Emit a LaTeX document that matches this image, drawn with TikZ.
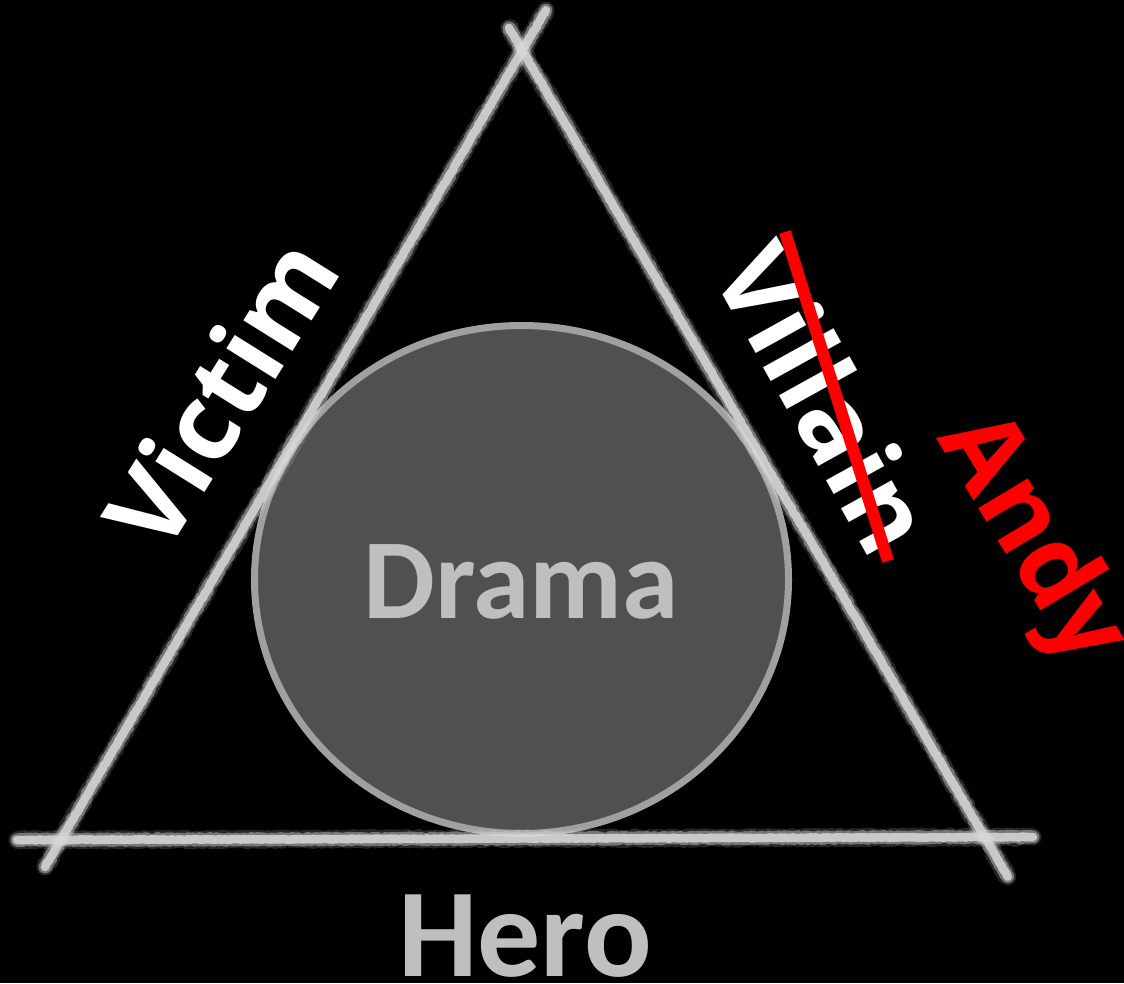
\documentclass[tikz,border=0pt]{standalone}
\usepackage{fontspec}
\setmainfont{Open Sans}
\newfontfamily\calib{Carlito}
\usetikzlibrary{decorations.pathmorphing,shapes.geometric}
\definecolor{chalk}{HTML}{D8D8D8}
\definecolor{circfill}{HTML}{505050}
\definecolor{circline}{HTML}{A0A0A0}
\definecolor{lighttext}{HTML}{BFBFBF}
\definecolor{redx}{HTML}{FF0000}
\tikzset{
  chalkhalo/.style={line width=17, draw=chalk, opacity=0.18, line join=round, line cap=round,
    decorate, decoration={random steps, segment length=1.5, amplitude=1.4}},
  chalkouter/.style={line width=13, draw=chalk, opacity=0.45, line join=round, line cap=round,
    decorate, decoration={random steps, segment length=1.5, amplitude=1}},
  chalkinner/.style={line width=8.5, draw=chalk, opacity=0.85, line join=round, line cap=round,
    decorate, decoration={random steps, segment length=1.5, amplitude=0.5}},
  sidelabel/.style={text=white, font=\bfseries\fontsize{106}{110}\selectfont, inner sep=0},
  bigtext/.style={text=lighttext, font=\calib\bfseries\fontsize{#1}{#1}\selectfont, inner sep=0},
}
\begin{document}
\begin{tikzpicture}[x=1pt, y=-1pt]
\useasboundingbox[fill=black] (0,0) rectangle (1124,983);
% corner points of the chalk lines
\coordinate (L1) at (45,867);
\coordinate (L2) at (546,10);
\coordinate (R1) at (509,28);
\coordinate (R2) at (1008,877);
\coordinate (B1) at (17,840);
\coordinate (B2) at (1033,837);
% circle
\node (drama) [ellipse, draw=circline, fill=circfill, line width=7, minimum width=534, minimum height=508, inner sep=0] at (521.5,579.5) {};
\node (dramatxt) [bigtext=114] at (521,582) {Drama};
% chalk lines
\foreach \a/\b in {L1/L2, R1/R2, B1/B2}{
  \draw[chalkhalo] (\a) -- (\b);
  \draw[chalkouter] (\a) -- (\b);
  \draw[chalkinner] (\a) -- (\b);
}
% labels
\node (hero) [bigtext=126] at (525,936) {Hero};
\node (victim) [sidelabel, rotate=58] at (220,393) {Victim};
\node (villain) [sidelabel, rotate=-61] at (826,398) {Villain};
\coordinate (s1) at (785,232);
\coordinate (s2) at (888,561);
\draw[redx, line width=12] (s1) -- (s2);
\node (andy) [text=redx, font=\bfseries\fontsize{106}{110}\selectfont, inner sep=0, rotate=-59] at (1030,540) {Andy};
\end{tikzpicture}
\end{document}
